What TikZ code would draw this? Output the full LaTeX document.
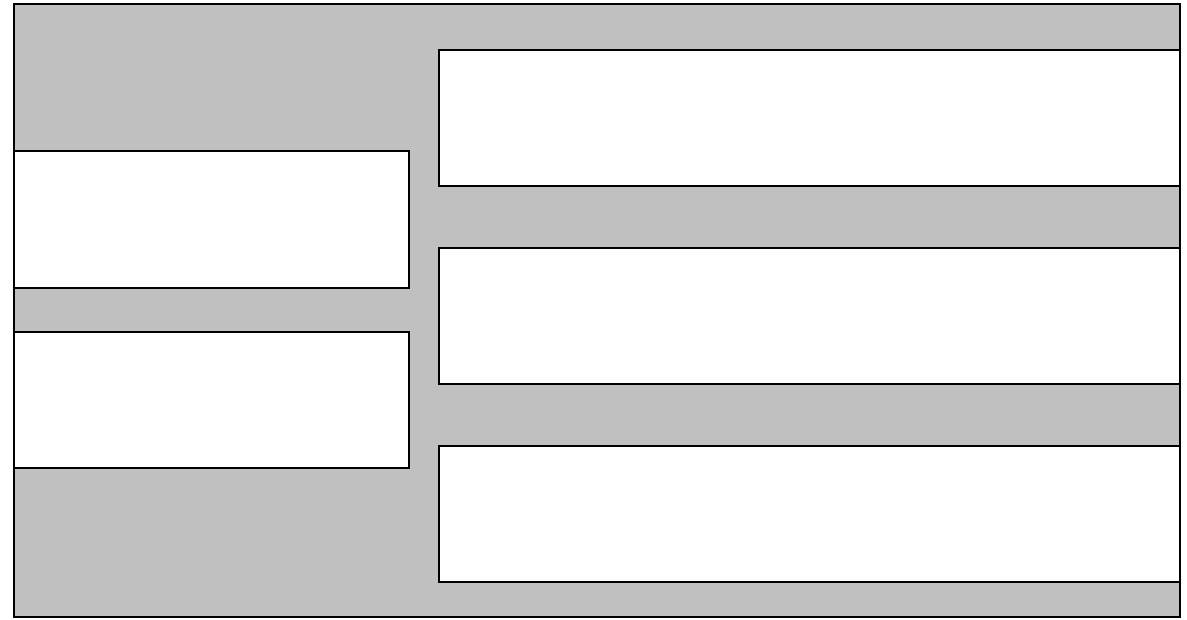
\documentclass[tikz,border=0pt]{standalone}
\definecolor{bggray}{RGB}{192,192,192}
\begin{document}
\begin{tikzpicture}[x=1pt,y=-1pt,
  frame/.style={draw=black,line width=2pt,fill=bggray},
  panel/.style={draw=black,line width=2pt,fill=white}]
\useasboundingbox (0,0) rectangle (1187,619);
\draw[frame] (14,4) rectangle (1180,617);
\coordinate (o) at (0,0);
\draw[panel] (439,50) rectangle (1180,186);
\draw[panel] (439,248) rectangle (1180,384);
\draw[panel] (439,446) rectangle (1180,582);
\draw[panel] (14,151) rectangle (409,288);
\draw[panel] (14,332) rectangle (409,468);
\end{tikzpicture}
\end{document}
